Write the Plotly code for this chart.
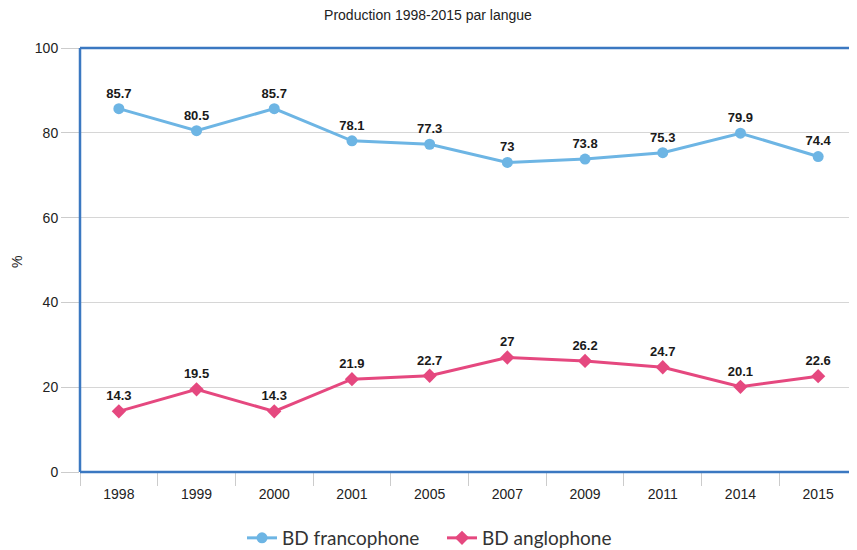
import plotly.graph_objects as go

years = ["1998", "1999", "2000", "2001", "2005", "2007", "2009", "2011", "2014", "2015"]
franco = [85.7, 80.5, 85.7, 78.1, 77.3, 73, 73.8, 75.3, 79.9, 74.4]
anglo = [14.3, 19.5, 14.3, 21.9, 22.7, 27, 26.2, 24.7, 20.1, 22.6]
y_ticks = [0, 20, 40, 60, 80, 100]

SANS = "Liberation Sans, Arial"

# The page body has an 8px margin, so the figure is sized/offset to compensate.
W, H = 849, 542
L, T, B = 72, 40, 78
PH = H - T - B
PW = W - L

fig = go.Figure()
fig.add_trace(go.Scatter(
    x=years, y=franco, name="BD francophone", mode="lines+markers+text",
    line=dict(color="#6DB5E4", width=3),
    marker=dict(symbol="circle", size=11, color="#6DB5E4"),
    text=[str(v) for v in franco], textposition="top center",
    textfont=dict(family=SANS, size=13, color="#1a1a1a", weight="bold"),
    cliponaxis=False,
))
fig.add_trace(go.Scatter(
    x=years, y=anglo, name="BD anglophone", mode="lines+markers+text",
    line=dict(color="#E5487F", width=3),
    marker=dict(symbol="diamond", size=11, color="#E5487F"),
    text=[str(v) for v in anglo], textposition="top center",
    textfont=dict(family=SANS, size=13, color="#1a1a1a", weight="bold"),
    cliponaxis=False,
))

fig.update_layout(
    width=W, height=H,
    margin=dict(l=L, r=0, t=T, b=B, autoexpand=False),
    paper_bgcolor="white", plot_bgcolor="white",
    title=dict(text="Production 1998-2015 par langue", x=(428 - 8 - L) / PW, xref="paper",
               xanchor="center", y=1 - 7 / H, yanchor="middle",
               font=dict(family=SANS, size=14, color="#222")),
    xaxis=dict(type="category", categoryorder="array", categoryarray=years,
               showgrid=False, ticks="outside", tickson="boundaries", ticklen=13,
               tickcolor="#cccccc", tickwidth=1, showline=False, zeroline=False,
               tickfont=dict(family=SANS, size=14, color="#222"),
               ticklabelstandoff=12, automargin=False,
               range=[-0.5, 9.5]),
    yaxis=dict(range=[0, 100], tickvals=y_ticks, showgrid=True, gridcolor="#d6d6d6",
               gridwidth=1, ticks="outside", ticklen=18, tickcolor="#cccccc",
               zeroline=False, showline=False, automargin=False,
               tickfont=dict(family=SANS, size=14, color="#222")),
    legend=dict(orientation="h", x=(242 - 8 - L) / PW, xanchor="left",
                y=(PH - (538 - 8 - T)) / PH, yanchor="middle",
                entrywidth=155, entrywidthmode="pixels",
                font=dict(family="Lato, Liberation Sans", size=19, color="#333")),
    showlegend=True,
    annotations=[
        dict(text="%", xref="paper", yref="paper", x=(17 - 8 - L) / PW,
             y=(PH - (262 - 8 - T)) / PH, borderpad=0,
             xanchor="center", yanchor="middle", textangle=-90, showarrow=False,
             font=dict(family=SANS, size=14, color="#222")),
    ],
    shapes=[
        dict(type="line", xref="paper", yref="paper", x0=0, x1=0, y0=0, y1=1,
             line=dict(color="#3B78C1", width=2.5)),
        dict(type="line", xref="paper", yref="paper", x0=0, x1=1, y0=1, y1=1,
             line=dict(color="#3B78C1", width=2.5)),
        dict(type="line", xref="paper", yref="paper", x0=0, x1=1, y0=0, y1=0,
             line=dict(color="#3B78C1", width=2.5)),
    ],
)

fig.write_html("out.html")
